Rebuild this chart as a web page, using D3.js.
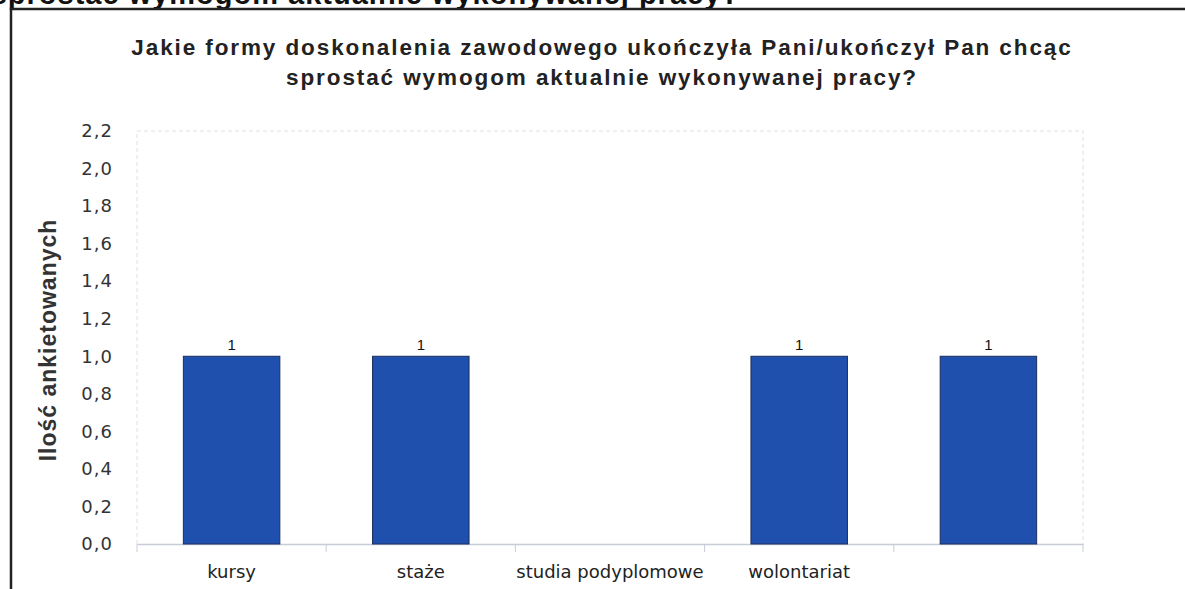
<!DOCTYPE html>
<html>
<head>
<meta charset="utf-8">
<script src="https://cdn.jsdelivr.net/npm/d3@7"></script>
<style>
  body { margin: 0; background: #fff; }
  svg { display: block; }
</style>
</head>
<body>
<svg id="chart"></svg>
<script>
// chart data
var categories = ["kursy", "staże", "studia podyplomowe", "wolontariat", ""];
var values = [1, 1, 0, 1, 1];
var yTicks = [0, 0.2, 0.4, 0.6, 0.8, 1.0, 1.2, 1.4, 1.6, 1.8, 2.0, 2.2];
var titleLines = [
  "Jakie formy doskonalenia zawodowego ukończyła Pani/ukończył Pan chcąc",
  "sprostać wymogom aktualnie wykonywanej pracy?"
];
var yTitle = "Ilość ankietowanych";
var cutHeading = "sprostać wymogom aktualnie wykonywanej pracy?";

var width = 1185, height = 589;
var plotLeft = 137, plotRight = 1083, plotTop = 131, plotBottom = 544;

var svg = d3.select("#chart").attr("width", width).attr("height", height);

// heading of the page, cut off at the top edge
svg.append("text")
  .attr("x", 740).attr("y", 4)
  .attr("text-anchor", "end")
  .style("font-family", "Liberation Sans, Arial, sans-serif")
  .style("font-weight", "bold")
  .style("font-size", "29px")
  .style("letter-spacing", "1px")
  .style("fill", "#111")
  .text(cutHeading);

// outer frame of the chart
svg.append("path")
  .attr("d", "M11," + height + "V9H" + width)
  .attr("fill", "none")
  .attr("stroke", "#222")
  .attr("stroke-width", 2.5);

var x = d3.scaleBand()
  .domain(d3.range(categories.length))
  .range([plotLeft, plotRight])
  .paddingInner(0.49)
  .paddingOuter(0.245);

var y = d3.scaleLinear()
  .domain([0, 2.2])
  .range([plotBottom, plotTop]);

// title
svg.append("g").selectAll("text")
  .data(titleLines)
  .enter().append("text")
  .attr("x", 602)
  .attr("y", function(d, i) { return 55 + i * 30; })
  .attr("text-anchor", "middle")
  .style("font-family", "Liberation Sans, Arial, sans-serif")
  .style("font-weight", "bold")
  .style("font-size", "22.5px")
  .style("letter-spacing", "1.9px")
  .style("fill", "#222")
  .text(function(d) { return d; });

// faint plot border
svg.append("path")
  .attr("d", "M" + plotLeft + "," + plotBottom + "V" + plotTop + "H" + plotRight + "V" + plotBottom)
  .attr("fill", "none")
  .attr("stroke", "#dde0e8")
  .attr("stroke-dasharray", "4,3");

// y axis
var yAxis = d3.axisLeft(y)
  .tickValues(yTicks)
  .tickSize(0)
  .tickPadding(24)
  .tickFormat(function(d) { return d3.format(".1f")(d).replace(".", ","); });

var gy = svg.append("g")
  .attr("transform", "translate(" + plotLeft + ",0)")
  .call(yAxis);
gy.select(".domain").remove();
gy.selectAll("text")
  .style("font-family", "DejaVu Sans, Verdana, sans-serif")
  .style("font-size", "18px")
  .style("letter-spacing", "1px")
  .style("fill", "#333");

// x axis
var xAxis = d3.axisBottom(x)
  .tickSize(0)
  .tickPadding(21)
  .tickFormat(function(i) { return categories[i]; });

var gx = svg.append("g")
  .attr("transform", "translate(0," + plotBottom + ")")
  .call(xAxis);
gx.select(".domain").attr("stroke", "#c8ccd6").attr("stroke-width", 1.5);
gx.selectAll("text")
  .style("font-family", "DejaVu Sans, Verdana, sans-serif")
  .style("font-size", "18px")
  .style("fill", "#222");

// tick marks between the categories
gx.selectAll(".sep")
  .data(d3.range(categories.length + 1))
  .enter().append("line")
  .attr("class", "sep")
  .attr("x1", function(i) { return plotLeft + i * x.step(); })
  .attr("x2", function(i) { return plotLeft + i * x.step(); })
  .attr("y1", 0).attr("y2", 8)
  .attr("stroke", "#c8ccd6");

// y axis title
svg.append("text")
  .attr("transform", "translate(56," + 340 + ") rotate(-90)")
  .attr("text-anchor", "middle")
  .style("font-family", "Liberation Sans, Arial, sans-serif")
  .style("font-weight", "bold")
  .style("font-size", "23px")
  .style("letter-spacing", "1px")
  .style("fill", "#333")
  .text(yTitle);

// bars
var data = categories.map(function(c, i) { return { i: i, v: values[i] }; });

svg.append("g").selectAll("rect")
  .data(data.filter(function(d) { return d.v > 0; }))
  .enter().append("rect")
  .attr("x", function(d) { return x(d.i); })
  .attr("y", function(d) { return y(d.v); })
  .attr("width", x.bandwidth())
  .attr("height", function(d) { return y(0) - y(d.v); })
  .attr("fill", "#1f50ad")
  .attr("stroke", "#1b2f5c")
  .attr("stroke-width", 1);

// value labels
svg.append("g").selectAll("text")
  .data(data.filter(function(d) { return d.v > 0; }))
  .enter().append("text")
  .attr("x", function(d) { return x(d.i) + x.bandwidth() / 2; })
  .attr("y", function(d) { return y(d.v) - 6; })
  .attr("text-anchor", "middle")
  .style("font-family", "Liberation Sans, Arial, sans-serif")
  .style("font-size", "15px")
  .style("fill", "#111")
  .text(function(d) { return d.v; });
</script>
</body>
</html>
